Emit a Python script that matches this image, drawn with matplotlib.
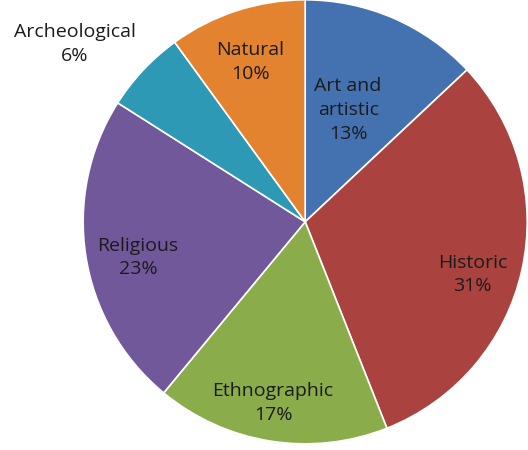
import numpy as np
import matplotlib
matplotlib.use("Agg")
import matplotlib.pyplot as plt

labels = ["Art and\nartistic", "Historic", "Ethnographic", "Religious", "Archeological", "Natural"]
values = [13, 31, 17, 23, 6, 10]
colors = ["#4472B0", "#AA4240", "#8BAC4A", "#71589A", "#2E99B5", "#E3832F"]

# label placement: radius (in pie radii) and angle shift from wedge middle
label_dist = [0.54, 0.79, 0.83, 0.77, 1.31, 0.76]
label_shift = [2.4, -4.9, -1.0, 3.0, 5.5, 1.0]

plt.rcParams['font.family'] = ['Open Sans', 'DejaVu Sans']

fig = plt.figure(figsize=(5.28, 4.5), dpi=100)
ax = fig.add_axes([0.578 - 0.4205, 0.507 - 0.4933, 0.841, 0.9867])

wedges, _ = ax.pie(values, colors=colors, startangle=90, counterclock=False,
                   wedgeprops=dict(edgecolor="white", linewidth=1.2))
ax.set_xlim(-1, 1)
ax.set_ylim(-1, 1)
ax.set_aspect("auto")
ax.axis("off")

for w, lab, v, d, s in zip(wedges, labels, values, label_dist, label_shift):
    ang = np.deg2rad((w.theta1 + w.theta2) / 2 + s)
    ax.text(d * np.cos(ang), d * np.sin(ang), f"{lab}\n{v}%", ha="center", va="center",
            fontsize=14, color="#1b1b1b", linespacing=1.4, clip_on=False)

fig.savefig("out.png", dpi=100)
